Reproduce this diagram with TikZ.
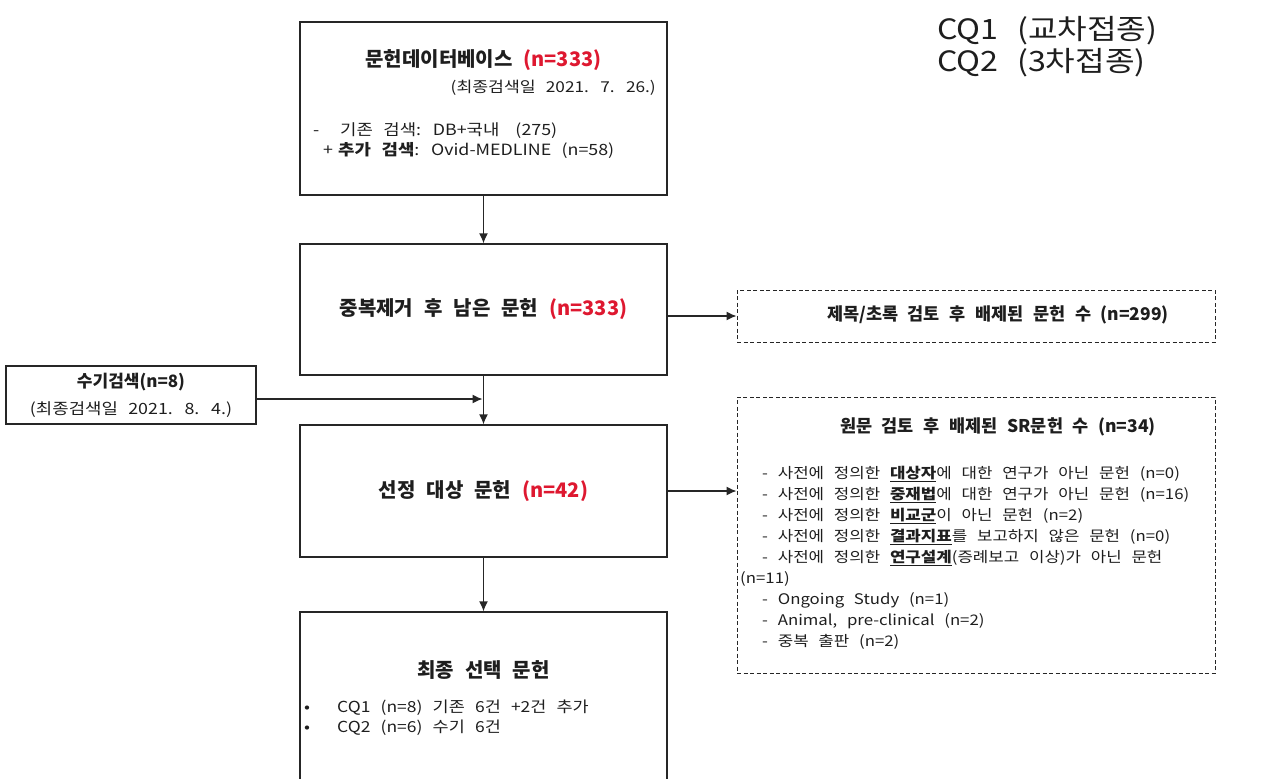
\documentclass[tikz,border=0pt]{standalone}
\usepackage{fontspec}
\setmainfont{Noto Sans CJK KR}[WordSpace=2.4]
\newfontfamily\bodyfont{Noto Sans CJK KR}[FakeStretch=1.15, WordSpace=2.6]
\usetikzlibrary{arrows.meta}
\usetikzlibrary{positioning}
\definecolor{linegray}{RGB}{38,38,38}
\definecolor{txtgray}{RGB}{30,30,30}
\definecolor{countred}{RGB}{222,24,48}
\newcommand{\redn}[1]{\textcolor{countred}{#1}}
\tikzstyle{box} = [rectangle, draw=linegray, line width=1.3pt, minimum width=367pt]
\tikzstyle{dbox} = [rectangle, draw=linegray, line width=1pt, dash pattern=on 4pt off 2.5pt, minimum width=478pt]
\tikzstyle{arr} = [draw=linegray, line width=1.3pt, -{Latex[length=10pt,width=9pt]}]
\tikzstyle{hdr} = [inner sep=0pt, text=txtgray, font=\fontsize{20}{24}\selectfont\bfseries]
\tikzstyle{txt} = [inner sep=0pt, text=txtgray, font=\bodyfont\fontsize{15.5}{18}\selectfont]

\begin{document}
\begin{tikzpicture}[x=1pt, y=-1pt]
  \useasboundingbox (0,0) rectangle (1261,779);
  \clip (0,0) rectangle (1261,779);

  % database search
  \node (db) [box, minimum height=173pt] at (483.5,108.5) {};
  \node (dbtitle) [hdr] at (483.5,60) {문헌데이터베이스 \redn{(n=333)}};
  \node (dbdate) [txt, font=\bodyfont\fontsize{15}{18}\selectfont, anchor=east] at (656,88) {(최종검색일 2021. 7. 26.)};
  \node (dbold) [txt, anchor=west] at (313,131) {\makebox[27pt][l]{-}기존 검색: DB+국내\hspace{16pt}(275)};
  \node (dbnew) [txt, anchor=west] at (323,150) {\makebox[15pt][l]{+}\textbf{추가 검색}: Ovid-MEDLINE (n=58)};

  \node (dedup) [box, hdr, minimum height=131pt] at (483.5,309.5) {중복제거 후 남은 문헌 \redn{(n=333)}};

  % hand search
  \node (manual) [box, minimum width=250pt, minimum height=58pt, align=center, inner sep=0pt,
    text=txtgray, font=\bodyfont\fontsize{15.5}{27}\selectfont] at (131,395)
    {{\normalfont\fontsize{17}{27}\selectfont\textbf{수기검색(n=8)}}\\(최종검색일 2021. 8. 4.)};
  \coordinate (merge) at (482.5,399);

  \node (select) [box, hdr, minimum height=132pt] at (483.5,491) {선정 대상 문헌 \redn{(n=42)}};

  \node (final) [box, minimum height=200pt] at (483.5,712) {};
  \node (finaltitle) [hdr] at (483.5,670) {최종 선택 문헌};
  \node (cq1) [txt, font=\bodyfont\fontsize{15.2}{18}\selectfont, anchor=west] at (304,708) {\makebox[33pt][l]{•}CQ1 (n=8) 기존 6건 +2건 추가};
  \node (cq2) [txt, font=\bodyfont\fontsize{15.2}{18}\selectfont, anchor=west] at (304,728) {\makebox[33pt][l]{•}CQ2 (n=6) 수기 6건};

  % excluded records
  \node (excl1) [dbox, minimum height=52pt] at (976,316) {};
  \node (excl1title) [hdr, font=\fontsize{17.5}{20}\selectfont\bfseries] at (998,315) {제목/초록 검토 후 배제된 문헌 수 (n=299)};

  \node (excl2) [dbox, minimum height=276pt] at (976,535) {};
  \node (excl2title) [hdr, font=\fontsize{17.5}{20}\selectfont\bfseries] at (998,427) {원문 검토 후 배제된 SR문헌 수 (n=34)};
  \foreach \why [count=\i] in {
      {- 사전에 정의한 \underline{\textbf{대상자}}에 대한 연구가 아닌 문헌 (n=0)},
      {- 사전에 정의한 \underline{\textbf{중재법}}에 대한 연구가 아닌 문헌 (n=16)},
      {- 사전에 정의한 \underline{\textbf{비교군}}이 아닌 문헌 (n=2)},
      {- 사전에 정의한 \underline{\textbf{결과지표}}를 보고하지 않은 문헌 (n=0)},
      {- 사전에 정의한 \underline{\textbf{연구설계}}(증례보고 이상)가 아닌 문헌},
      {\hspace*{-22pt}(n=11)},
      {- Ongoing Study (n=1)},
      {- Animal, pre-clinical (n=2)},
      {- 중복 출판 (n=2)}}
    \node (why\i) [txt, font=\bodyfont\fontsize{14.6}{20}\selectfont, anchor=west] at (762,{474+21*(\i-1)}) {\why};

  \node (cqnote) [inner sep=0pt, anchor=west, align=left, text=txtgray,
    font=\bodyfont\fontsize{28}{32}\selectfont] at (937,47) {CQ1 (교차접종)\\CQ2 (3차접종)};

  % connectors
  \draw[arr] (db) -- (dedup);
  \draw[arr] (dedup.east |- excl1.west) -- (excl1.west);
  \draw[arr] (dedup) -- (select);
  \draw[arr] (manual.east |- merge) -- (merge);
  \draw[arr] (select.east) -- (select.east -| excl2.west);
  \draw[arr] (select) -- (final);
\end{tikzpicture}
\end{document}
